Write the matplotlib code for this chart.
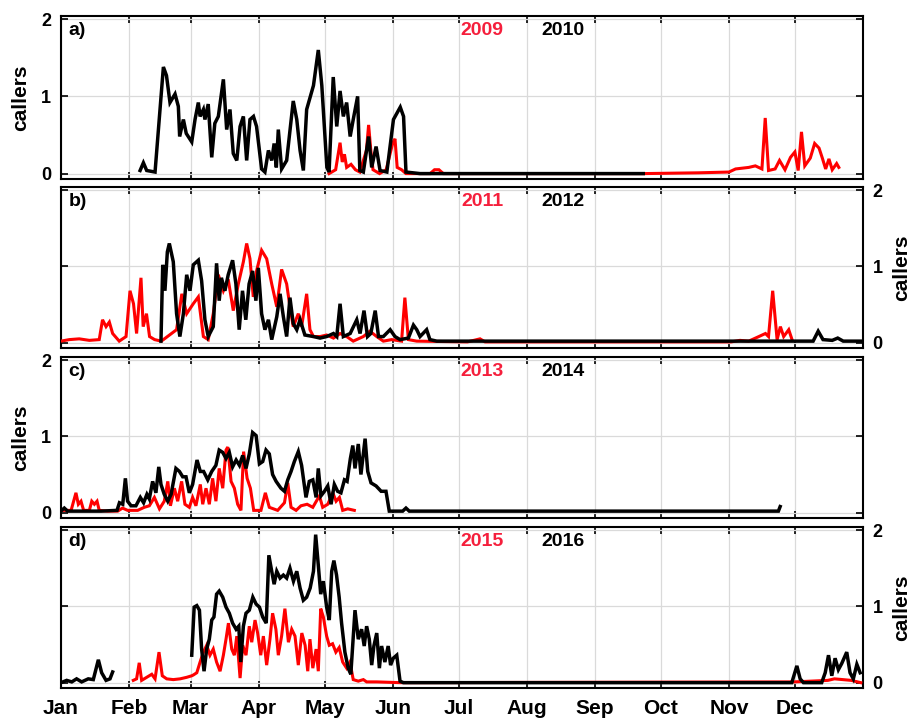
import matplotlib
matplotlib.use("Agg")
import matplotlib.pyplot as plt

plt.rcParams['font.family'] = ['Liberation Sans', 'DejaVu Sans']
plt.rcParams['font.weight'] = 'bold'

# ---------------- data (day of year, callers) ----------------
month_days = [0, 31, 59, 90, 120, 151, 181, 212, 243, 273, 304, 334]
month_labels = ['Jan', 'Feb', 'Mar', 'Apr', 'May', 'Jun', 'Jul', 'Aug', 'Sep', 'Oct', 'Nov', 'Dec']
panel_labels = ['a)', 'b)', 'c)', 'd)']
years_red = ['2009', '2011', '2013', '2015']
years_black = ['2010', '2012', '2014', '2016']

a_2009 = [(122,0),(125,0.05),(127,0.4),(128,0.15),(129,0.25),(130,0.08),(132,0.12),(134,0.05),(136,0.02),
          (139,0.3),(140,0.63),(141,0.3),(142,0.05),(145,0),(148,0.05),(151,0.4),(152,0.45),(153,0.08),
          (155,0.05),(157,0),(168,0),(170,0.05),(172,0.05),(174,0),(176,0),(265,0),(290,0.01),(304,0.02),
          (307,0.06),(313,0.08),(316,0.1),(319,0.06),(320.5,0.72),(322,0.04),(325,0.06),(327,0.17),
          (329.5,0.05),(332,0.21),(334,0.28),(335.5,0.04),(337,0.54),(338.5,0.1),(341,0.2),(343,0.39),
          (345,0.33),(346.5,0.2),(348,0.06),(349.5,0.19),(351,0.05),(353,0.13),(354,0.08)]

a_2010 = [(36,0.04),(37.5,0.14),(39,0.04),(42.8,0.02),(46.6,1.38),(48,1.27),(49.6,0.92),(51.9,1.03),
          (53.4,0.87),(54,0.48),(55.7,0.7),(57,0.52),(59.5,0.41),(61,0.7),(62.5,0.92),(63.3,0.74),
          (64.8,0.83),(65.5,0.7),(67,0.9),(68.6,0.21),(70,0.65),(71.6,0.74),(73.9,1.22),(75.4,0.57),
          (76.9,0.83),(78.4,0.26),(80,0.17),(81.5,0.61),(83,0.74),(84.5,0.17),(86,0.7),(87.6,0.74),
          (89,0.61),(91.3,0.06),(92.8,0.02),(94.4,0.3),(95.9,0.17),(97,0.39),(98,0.08),(98.9,0.57),
          (100.4,0.06),(102.7,0.17),(105.7,0.94),(107.3,0.7),(108.8,0.3),(110.3,0.04),(111.8,0.83),
          (113.3,0.98),(114.9,1.14),(117.1,1.6),(118.7,1.14),(121,0.08),(122,0.02),(123.9,1.25),
          (125.5,0.61),(127,1.07),(128.5,0.74),(130,0.92),(131.6,0.48),(133,0.7),(135,1.0),(136,0.04),
          (137.6,0.02),(140,0.48),(141.4,0.08),(143.4,0.35),(145.2,0.04),(148.3,0.02),(151.3,0.7),
          (154.4,0.86),(155.9,0.74),(157,0.02),(163.4,0.0),(265,0.0)]

b_2011 = [(0,0.02),(3.8,0.04),(8.3,0.05),(12.9,0.03),(17.4,0.04),(18.9,0.3),(20.5,0.21),(22,0.27),
          (23.5,0.12),(26.5,0.02),(29.6,0.08),(31.4,0.68),(33,0.51),(34.4,0.12),(36.4,0.85),(37.4,0.21),
          (38.9,0.38),(40.3,0.08),(42.6,0.04),(45.6,0.02),(46.6,0.04),(52.6,0.17),(55,0.64),(57.2,0.38),
          (60.2,0.51),(62.5,0.6),(64.8,0.08),(67,0.04),(69.3,0.38),(71.6,0.89),(73.9,0.68),(76.1,0.83),
          (78.4,0.42),(80.7,0.77),(83,1.06),(84.5,1.3),(86,1.1),(87.5,0.6),(89,0.94),(91.3,1.21),
          (93.6,1.1),(95.9,0.77),(98.2,0.47),(100.4,0.96),(102.7,0.77),(104.2,0.47),(105.7,0.21),
          (108,0.38),(109.5,0.21),(111.8,0.64),(113.3,0.17),(114.9,0.08),(117.9,0.08),(120.9,0.1),
          (124,0.06),(127,0.12),(130,0.08),(133,0.02),(137.6,0.08),(140.6,0.15),(143.7,0.08),
          (146.7,0.02),(150.5,0.04),(155,0.02),(156.5,0.59),(158.1,0.04),(161.9,0.02),(185,0.01),
          (190.7,0.05),(193,0.01),(305,0.01),(309,0.03),(313,0.02),(317.6,0.08),(320.6,0.12),(322,0.08),
          (323.9,0.68),(325.9,0.04),(327.4,0.21),(328.9,0.08),(331.2,0.17),(332.7,0.04)]

b_2012 = [(45.5,0.02),(46.3,1.02),(47.3,0.68),(48.4,1.19),(49.3,1.3),(51.1,1.06),(52.6,0.38),(54.1,0.08),
          (55.7,0.38),(57.2,0.89),(58.7,0.68),(60.2,1.02),(62.5,1.08),(64,0.81),(65.5,0.3),(67,0.08),
          (69.3,0.21),(70.8,1.04),(72,0.55),(73,0.85),(74.6,0.68),(76.1,0.89),(78.1,1.08),(79.6,0.77),
          (81.1,0.17),(82.6,0.68),(84.1,0.3),(85.6,0.77),(87.2,0.94),(88.7,0.55),(89.8,0.98),(91.3,0.38),
          (92.8,0.17),(94.4,0.3),(95.9,0.04),(98.2,0.34),(99.7,0.64),(101.2,0.34),(102.7,0.08),
          (104.2,0.59),(105.7,0.25),(107.3,0.17),(108.8,0.3),(111,0.1),(114.9,0.08),(117.9,0.06),
          (120.9,0.08),(124,0.12),(125.5,0.08),(127,0.51),(128.5,0.08),(131.6,0.12),(134.6,0.3),
          (136.1,0.12),(137.9,0.42),(139.5,0.08),(141,0.12),(143,0.42),(144.5,0.08),(146.7,0.08),
          (149.8,0.17),(152,0.08),(154.3,0.04),(158.1,0.06),(160.4,0.23),(161.9,0.17),(163.4,0.08),
          (166.4,0.17),(167.9,0.04),(171,0.02),(340,0.02),(342.3,0.02),(344.6,0.15),(346.8,0.04),
          (351,0.03),(353.5,0.06),(356,0.02),(365,0.02)]

c_2013 = [(0.8,0.03),(4.6,0.03),(6.8,0.26),(7.9,0.11),(9.1,0.15),(10.3,0.03),(12.9,0.03),(14,0.15),
          (15.2,0.11),(16.4,0.15),(17.4,0.03),(21.2,0.02),(25.8,0.02),(28,0.06),(30.3,0.03),(34.9,0.03),
          (37.9,0.07),(40.2,0.09),(42.5,0.2),(44.8,0.05),(47,0.15),(48.6,0.41),(49.8,0.09),(51.6,0.32),
          (53.1,0.15),(54.9,0.41),(56.4,0.11),(58.4,0.07),(59.9,0.2),(61.4,0.09),(63.4,0.37),(64.5,0.11),
          (66,0.32),(67.5,0.11),(69,0.45),(70.5,0.15),(72,0.58),(73.6,0.32),(75.1,0.82),(75.9,0.86),
          (77.4,0.41),(78.9,0.32),(80.4,0.11),(81.9,0.03),(83.1,0.8),(84.7,0.45),(86.2,0.32),(87.7,0.03),
          (91,0.03),(93,0.26),(94.8,0.07),(98.6,0.03),(101.7,0.13),(103.2,0.39),(104.7,0.07),(107,0.03),
          (109.2,0.09),(112,0.11),(114.6,0.07),(117.6,0.22),(119.1,0.07),(121.4,0.11),(123.7,0.26),
          (125.2,0.15),(126.7,0.2),(128.2,0.03),(130.5,0.05),(133.5,0.03)]

c_2014 = [(0.3,0.03),(1.5,0.06),(3,0.02),(9.1,0.02),(18.2,0.02),(25.5,0.03),(26.6,0.13),(28.1,0.11),
          (29.3,0.45),(30.3,0.15),(31.9,0.09),(34.1,0.09),(36.1,0.2),(37.6,0.13),(39.1,0.24),(40.2,0.18),
          (41.7,0.41),(43.2,0.26),(44.5,0.6),(45.5,0.37),(47,0.24),(48.6,0.15),(50.1,0.24),(52.3,0.58),
          (53.9,0.54),(55.4,0.47),(56.9,0.47),(58.4,0.26),(59.9,0.37),(61.9,0.69),(63.4,0.54),(64.9,0.54),
          (66.8,0.43),(68.6,0.54),(70.5,0.62),(72,0.82),(73.6,0.79),(75.1,0.71),(76.6,0.79),(78.1,0.6),
          (79.7,0.69),(81.2,0.62),(82.7,0.75),(84.2,0.58),(85.7,0.77),(87.2,1.05),(88.8,1.01),(90.3,0.64),
          (91.8,0.67),(93.3,0.82),(94.8,0.77),(96.3,0.5),(97.9,0.41),(100.1,0.32),(101.7,0.28),
          (103.2,0.43),(104.7,0.54),(106.2,0.67),(108,0.8),(109.5,0.62),(111.5,0.2),(113,0.41),
          (114.6,0.43),(116.1,0.2),(117.1,0.58),(118.3,0.22),(119.9,0.28),(121.4,0.35),(122.9,0.11),
          (124.4,0.37),(125.9,0.28),(127.4,0.26),(129,0.43),(130.2,0.41),(131.7,0.71),(132.8,0.88),
          (133.8,0.58),(135.3,0.9),(136.5,0.5),(138.4,0.97),(139.6,0.54),(141.1,0.39),(143.4,0.35),
          (145.7,0.28),(147.9,0.28),(149.4,0.02),(155.5,0.02),(157,0.06),(158.5,0.02),(163.9,0.02),
          (326.5,0.02),(327.3,0.08)]

d_2015 = [(32.9,0.03),(34.4,0.05),(35.6,0.26),(36.7,0.03),(39,0.07),(41.3,0.11),(42.8,0.05),(44.6,0.4),
          (46.1,0.09),(48.1,0.05),(51.1,0.04),(54.2,0.05),(57.2,0.07),(59.5,0.09),(60.2,0.1),(61.8,0.13),
          (63.3,0.27),(64.8,0.4),(66.3,0.49),(67.8,0.36),(69.3,0.44),(70.8,0.27),(72.4,0.15),(73.9,0.36),
          (75.1,0.57),(76.2,0.78),(77.7,0.44),(78.9,0.36),(80,0.61),(81.5,0.06),(82.7,0.49),(84.2,0.36),
          (85.7,0.74),(86.8,0.53),(88.3,0.82),(89.5,0.65),(90.9,0.36),(92.1,0.61),(93.6,0.23),(95.1,0.57),
          (96.3,0.91),(97.8,0.7),(98.9,0.36),(100.4,0.61),(101.9,0.97),(103.5,0.53),(105,0.7),(106.5,0.61),
          (108,0.23),(109.6,0.65),(111.1,0.49),(112.3,0.15),(113.3,0.57),(114.6,0.19),(116.1,0.44),
          (117.1,0.15),(118.2,0.97),(119.4,0.86),(120.9,0.61),(122.1,0.49),(123.6,0.51),(125.1,0.4),
          (126.6,0.46),(128.2,0.27),(130,0.19),(131.5,0.27),(133,0.04),(135.3,0.02),(137.6,0.04),
          (139.1,0.01),(143.7,0.01),(154.3,0.0),(333.8,0.01),(349,0.03),(352,0.05),(359.6,0.03),(364,0.0)]

d_2016_jan = [(0,0.0),(2.6,0.03),(4.9,0.01),(7.1,0.05),(9.4,0.01),(12.4,0.05),(14.7,0.04),(17,0.3),
              (18.5,0.13),(20.5,0.03),(22.3,0.05),(23.5,0.14)]

d_2016 = [(59.5,0.36),(60.6,0.99),(61.8,1.01),(63,0.95),(64,0.44),(65.1,0.15),(66.3,0.44),(67.5,0.57),
          (68.6,0.82),(69.6,0.86),(70.8,1.16),(72,1.2),(73.6,1.12),(75.1,0.99),(76.6,0.91),(78.1,0.78),
          (79.7,0.7),(80.9,0.74),(81.8,0.27),(83,0.74),(84.2,0.91),(85.7,0.95),(87.3,1.12),(88.8,1.03),
          (90.3,0.99),(91.8,0.86),(93.4,0.78),(94.6,1.67),(95.9,1.46),(97,1.29),(98.2,1.46),(99.7,1.37),
          (101.2,1.41),(102.7,1.37),(104.2,1.5),(105.8,1.33),(107.3,1.46),(108.8,1.24),(110.3,1.08),
          (111.8,1.12),(113.4,1.24),(114.9,1.46),(115.9,1.94),(117.1,1.54),(118.2,1.16),(119.4,1.33),
          (120.9,0.99),(122.1,0.82),(123.2,1.46),(124.2,1.6),(125.4,1.41),(126.6,1.12),(127.7,0.78),
          (129.2,0.4),(130.7,0.19),(131.9,0.11),(133.8,0.95),(135.3,0.57),(136.8,0.7),(138,0.48),
          (139.1,0.74),(140.3,0.57),(141.4,0.23),(142.4,0.48),(143.7,0.65),(144.9,0.19),(145.9,0.48),
          (147.4,0.27),(148.9,0.48),(150,0.23),(151.2,0.32),(152.8,0.36),(154.3,0.02),(155.8,0.0),
          (332.6,0.0),(334.9,0.22),(336.4,0.05),(337.9,0.0),(346.2,0.0),(347.8,0.13),(349.3,0.36),
          (350.8,0.09),(352.3,0.32),(353.8,0.17),(355.3,0.25),(357.6,0.4),(359.1,0.13),(360.6,0.05),
          (362.2,0.24),(363.7,0.13)]

red_series = [[a_2009], [b_2011], [c_2013], [d_2015]]
black_series = [[a_2010], [b_2012], [c_2014], [d_2016_jan, d_2016]]
label_side = ['left', 'right', 'left', 'right']

# ---------------- figure ----------------
RED = '#ff0000'
TXT_RED = '#f51f3c'
fig = plt.figure(figsize=(9.12, 7.25), dpi=100)
left, width = 61 / 912, 802 / 912
tops = [16, 187, 357, 527]
bottoms = [179, 348, 518, 688]

for i in range(4):
    ax = fig.add_axes([left, 1 - bottoms[i] / 725, width, (bottoms[i] - tops[i]) / 725])
    for seg in red_series[i]:
        ax.plot([p[0] for p in seg], [p[1] for p in seg], color=RED, lw=2.2, solid_joinstyle='miter', zorder=3)
    for seg in black_series[i]:
        ax.plot([p[0] for p in seg], [p[1] for p in seg], color='black', lw=2.5, solid_joinstyle='miter', zorder=4)

    ax.set_xlim(0, 365)
    ax.set_ylim(-0.07, 2.04)
    ax.set_xticks(month_days)
    ax.set_yticks([0, 1, 2])
    ax.grid(True, color='#dadada', lw=0.9, zorder=0)
    ax.set_axisbelow(True)
    for s in ax.spines.values():
        s.set_linewidth(1.5)
    ax.tick_params(axis='both', direction='in', length=5, width=1.2,
                   top=True, bottom=True, left=True, right=True)

    if i == 3:
        ax.set_xticklabels(month_labels, fontsize=15, fontweight='bold')
        ax.tick_params(axis='x', pad=8)
    else:
        ax.set_xticklabels([])

    if label_side[i] == 'left':
        ax.tick_params(axis='y', labelleft=True, labelright=False, labelsize=13, pad=7)
        ax.set_ylabel('callers', fontsize=15, fontweight='bold', labelpad=8)
    else:
        ax.tick_params(axis='y', labelleft=False, labelright=True, labelsize=13, pad=7)
        ax.yaxis.set_label_position('right')
        ax.set_ylabel('callers', fontsize=15, fontweight='bold', labelpad=7)
    for lab in ax.get_yticklabels():
        lab.set_fontweight('bold')

    ax.text(0.009, 0.91, panel_labels[i], transform=ax.transAxes, fontsize=14,
            fontweight='bold', ha='left', va='center')
    ax.text(0.525, 0.91, years_red[i], transform=ax.transAxes, fontsize=14,
            fontweight='bold', color=TXT_RED, ha='center', va='center')
    ax.text(0.626, 0.91, years_black[i], transform=ax.transAxes, fontsize=14,
            fontweight='bold', color='black', ha='center', va='center')

fig.savefig('out.png', dpi=100)
